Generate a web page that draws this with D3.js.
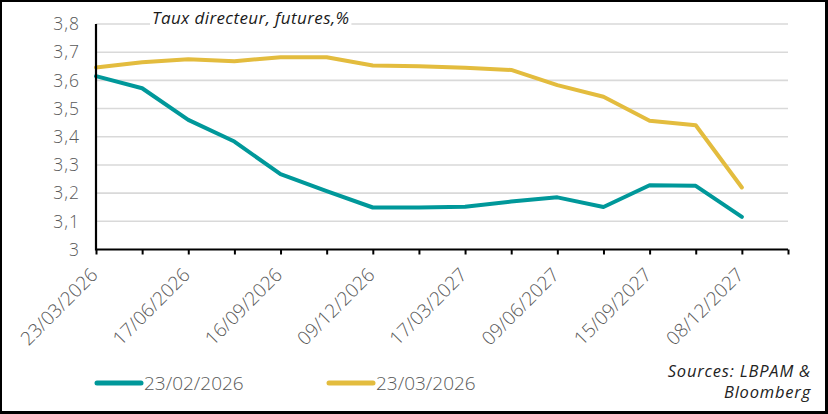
<!DOCTYPE html>
<html>
<head>
<meta charset="utf-8">
<script src="https://cdn.jsdelivr.net/npm/d3@7"></script>
<style>
  html, body { margin: 0; padding: 0; background: #fff; }
  svg { display: block; }
  text { font-family: "Open Sans", sans-serif; }
</style>
</head>
<body>
<svg id="chart" width="828" height="414"></svg>
<script>
// ---- data ----
const tickLabels = ["23/03/2026", "17/06/2026", "16/09/2026", "09/12/2026",
                    "17/03/2027", "09/06/2027", "15/09/2027", "08/12/2027"];
const seriesNames = ["23/02/2026", "23/03/2026"];
const feb = [3.615, 3.572, 3.460, 3.383, 3.267, 3.207, 3.149, 3.149,
             3.152, 3.170, 3.185, 3.151, 3.228, 3.226, 3.116];
const mar = [3.646, 3.664, 3.675, 3.668, 3.682, 3.682, 3.653, 3.650,
             3.645, 3.637, 3.583, 3.542, 3.457, 3.441, 3.220];
const yTicks = [3, 3.1, 3.2, 3.3, 3.4, 3.5, 3.6, 3.7, 3.8];
const sourceLines = ["Sources: LBPAM &", "Bloomberg"];
const nSlots = 15; // category intervals on the axis
const colors = ["#00989A", "#E3BC3E"];

const svg = d3.select("#chart");

// frame
svg.append("rect").attr("x", 0).attr("y", 0).attr("width", 828).attr("height", 414).attr("fill", "#000");
svg.append("rect").attr("x", 2).attr("y", 2).attr("width", 823).attr("height", 409).attr("fill", "#fff");

const x = d3.scaleLinear().domain([0, nSlots]).range([96, 788]);
const y = d3.scaleLinear().domain([3, 3.8]).range([249.5, 24]);

const fmt = v => d3.format(".1~f")(v).replace(".", ",");

// gridlines
svg.append("g").selectAll("line")
  .data(yTicks.filter(v => v > 3))
  .join("line")
  .attr("x1", x(0)).attr("x2", x(nSlots))
  .attr("y1", d => y(d)).attr("y2", d => y(d))
  .attr("stroke", "#D9D9D9").attr("stroke-width", 1.6);

// y labels
svg.append("g").selectAll("text")
  .data(yTicks)
  .join("text")
  .attr("x", 80).attr("y", d => y(d))
  .attr("dy", "0.36em")
  .attr("text-anchor", "end")
  .attr("font-size", 17.5).attr("font-weight", 300)
  .attr("letter-spacing", 1)
  .attr("fill", "#595959")
  .text(fmt);

// title (with white box behind)
const tg = svg.append("g");
const title = tg.append("text")
  .attr("x", 152).attr("y", 24)
  .attr("font-size", 17).attr("font-style", "italic").attr("font-weight", 400)
  .attr("letter-spacing", 0.4)
  .attr("fill", "#1a1a1a")
  .text("Taux directeur, futures,%");
const tb = title.node().getBBox();
tg.insert("rect", "text")
  .attr("x", tb.x - 2).attr("y", tb.y).attr("width", tb.width + 4).attr("height", tb.height)
  .attr("fill", "#fff");

// lines
const line = d3.line().x((d, i) => x(i)).y(d => y(d));
[feb, mar].forEach((s, k) => {
  svg.append("path")
    .datum(s)
    .attr("d", line)
    .attr("fill", "none")
    .attr("stroke", colors[k])
    .attr("stroke-width", 4)
    .attr("stroke-linejoin", "round")
    .attr("stroke-linecap", "round");
});

// axes
const xAxis = d3.axisBottom(x)
  .tickValues(d3.range(0, nSlots + 1))
  .tickSize(5)
  .tickFormat("");
const gx = svg.append("g").attr("transform", `translate(0,${y(3)})`).call(xAxis);
gx.select(".domain").attr("stroke", "#000").attr("stroke-width", 2.2).attr("d", `M${x(0)},0H${x(nSlots)}`);
gx.selectAll(".tick line").attr("stroke", "#000").attr("stroke-width", 2);

svg.append("line")
  .attr("x1", x(0)).attr("x2", x(0))
  .attr("y1", y(3.8)).attr("y2", y(3) + 1)
  .attr("stroke", "#000").attr("stroke-width", 2.2);

// x labels
svg.append("g").selectAll("text")
  .data(tickLabels)
  .join("text")
  .attr("transform", (d, i) => `translate(${x(i * 2) + 3},276) rotate(-45)`)
  .attr("text-anchor", "end")
  .attr("font-size", 19).attr("font-weight", 300)
  .attr("fill", "#595959")
  .text(d => d);

// legend
const legX = [97, 329];
seriesNames.forEach((n, k) => {
  svg.append("line")
    .attr("x1", legX[k]).attr("x2", legX[k] + 44)
    .attr("y1", 383).attr("y2", 383)
    .attr("stroke", colors[k]).attr("stroke-width", 5).attr("stroke-linecap", "round");
  svg.append("text")
    .attr("x", legX[k] + 47).attr("y", 389.5)
    .attr("font-size", 19).attr("font-weight", 300)
    .attr("fill", "#595959")
    .text(n);
});

// sources
sourceLines.forEach((t, i) => {
  svg.append("text")
    .attr("x", 811).attr("y", 377 + i * 21)
    .attr("text-anchor", "end")
    .attr("font-size", 16.5).attr("font-style", "italic").attr("font-weight", 400)
    .attr("letter-spacing", 0.8)
    .attr("fill", "#222")
    .text(t);
});
</script>
</body>
</html>
